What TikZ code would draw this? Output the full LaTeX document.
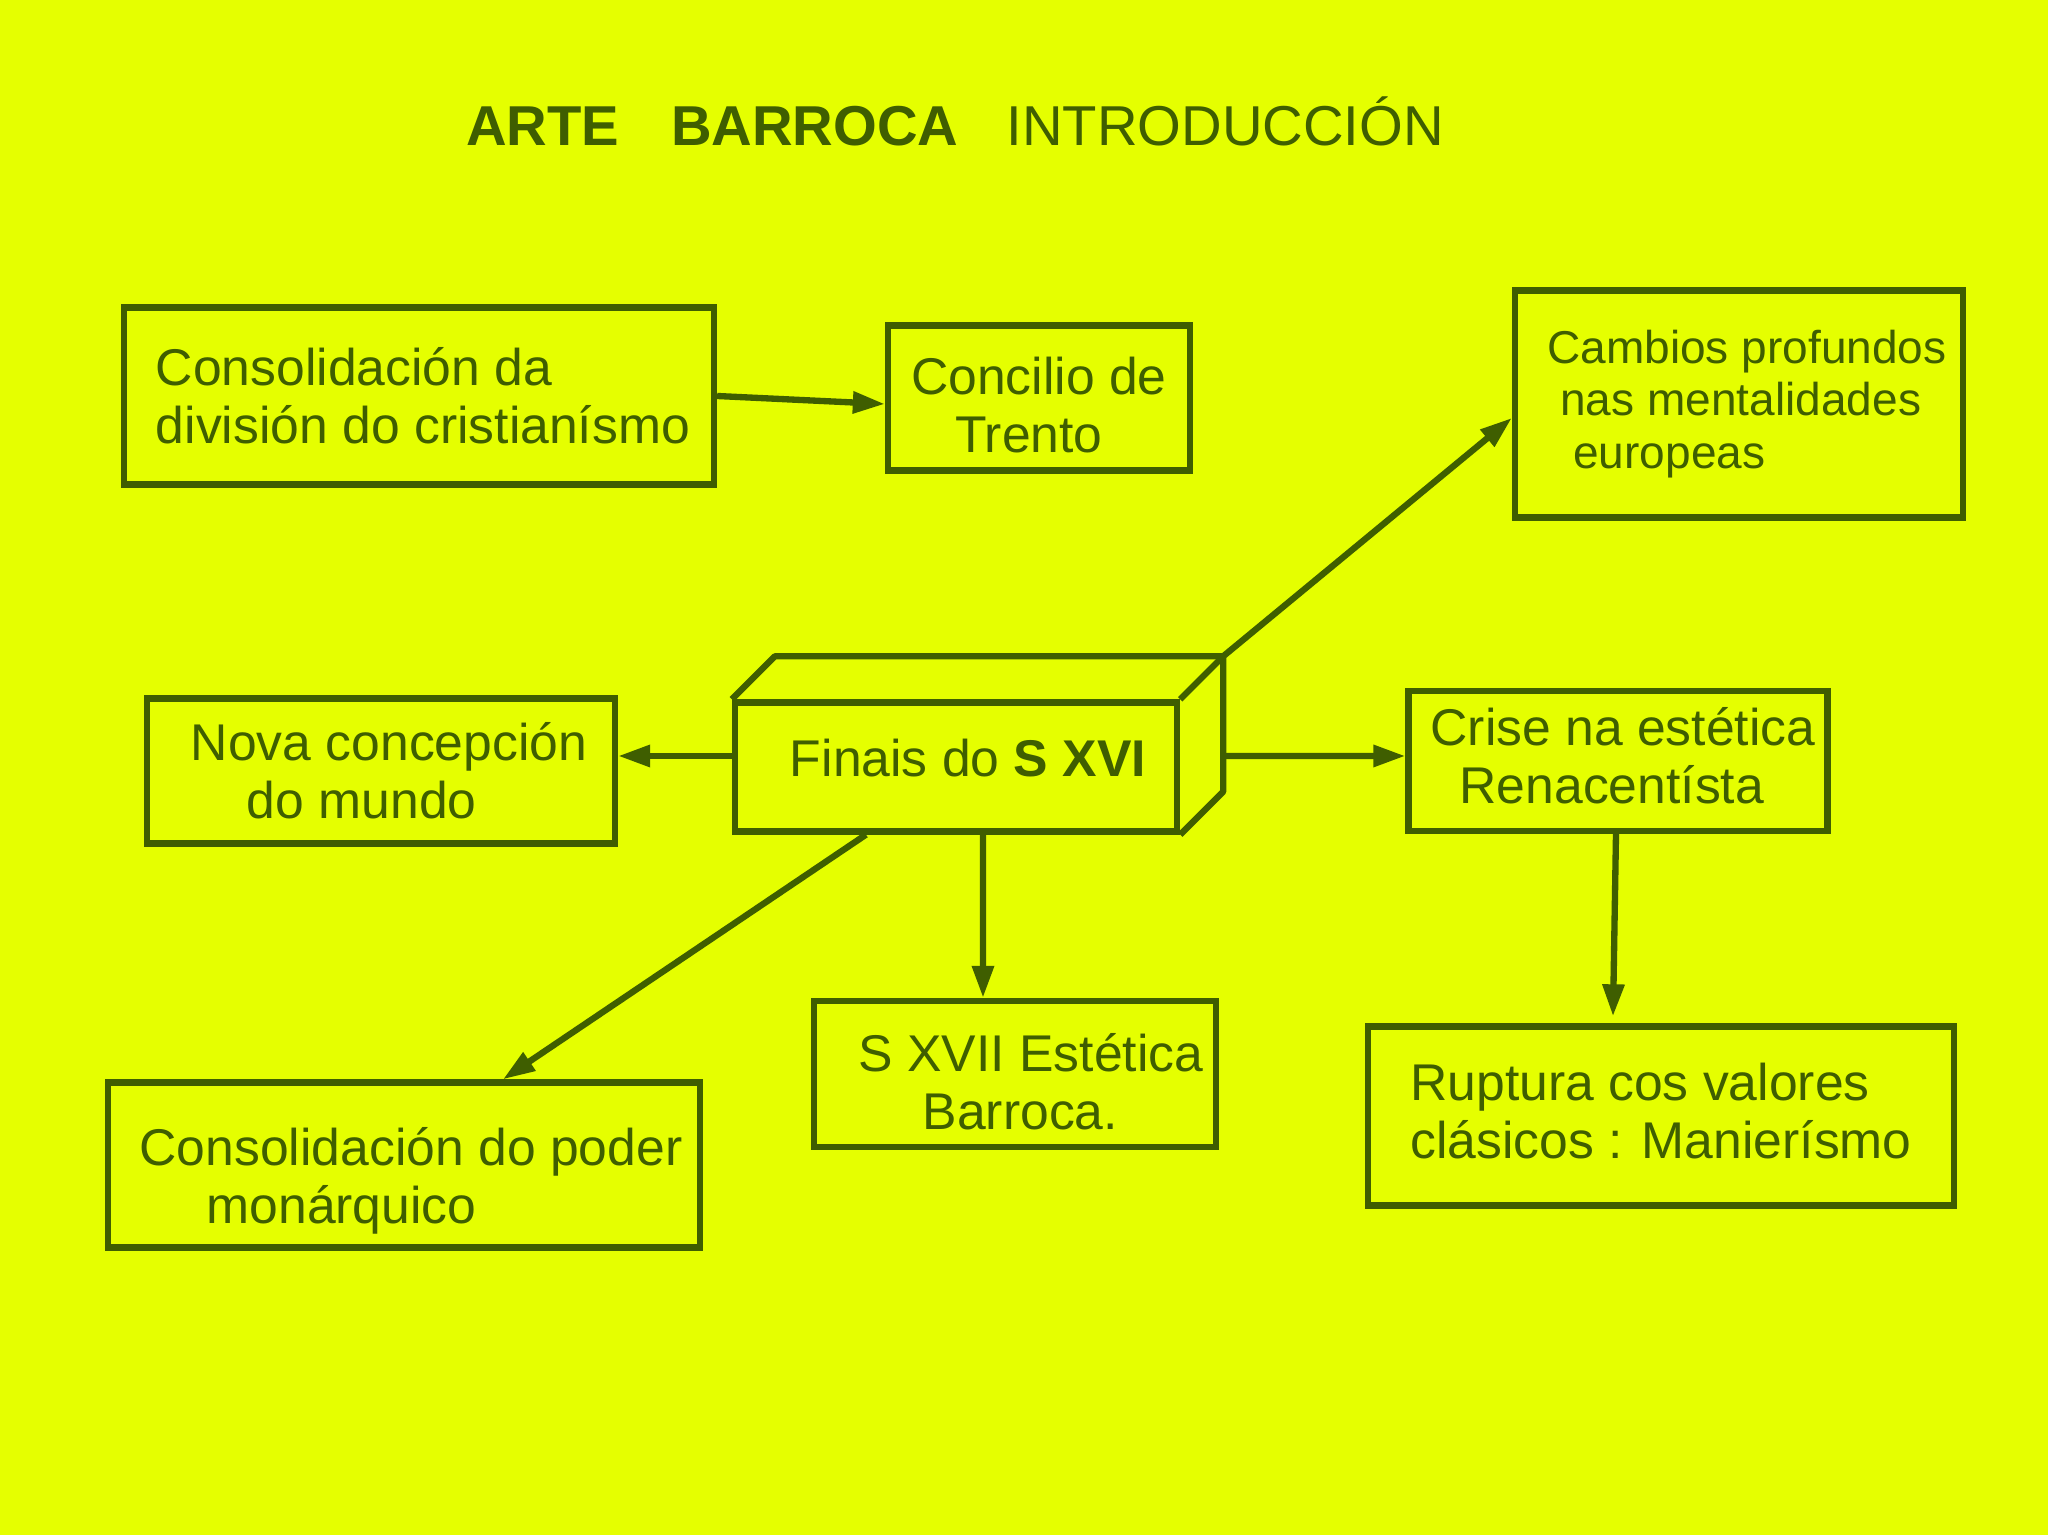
\documentclass[tikz,border=0pt]{standalone}
\usepackage{fontspec}
\setmainfont{Liberation Sans}
\usepackage{tikz}
\usetikzlibrary{arrows.meta,positioning,calc}
\definecolor{lemon}{HTML}{E5FF00}
\definecolor{leaf}{HTML}{3F5E00}
\tikzset{
  box/.style={draw=leaf,line width=1.8pt,inner sep=0pt},
  txt/.style={text=leaf,align=left,inner sep=0pt,
    font=\fontsize{14.7pt}{16.4pt}\selectfont},
  smalltxt/.style={txt,font=\fontsize{13.1pt}{14.9pt}\selectfont},
  arr/.style={-{Triangle[length=3.2mm,width=2.1mm]},line width=1.8pt,draw=leaf},
  edge3d/.style={draw=leaf,line width=1.8pt,line join=round},
  headline/.style={text=leaf,font=\fontsize{16pt}{19pt}\selectfont,anchor=base},
}

\begin{document}
\begin{tikzpicture}[x=1cm,y=1cm]
  \fill[lemon] (0,0) rectangle (20.48,15.35);
  \useasboundingbox (0,0) rectangle (20.48,15.35);
  \node[headline] (title) at (9.55,13.89)
    {\textbf{ARTE}\hspace{0.52cm}\textbf{BARROCA}\hspace{0.48cm}INTRODUCCIÓN};
  % top row
  \node[box,minimum width=5.90cm,minimum height=1.77cm] (cons) at (4.19,11.39) {};
  \node[txt] (consT) at ([xshift=0.04cm]cons.center)
    {Consolidación da\\división do cristianísmo};
  \node[box,minimum width=3.02cm,minimum height=1.45cm] (trento) at (10.39,11.37) {};
  \node[txt] (trentoT) at ([yshift=-0.07cm]trento.center)
    {Concilio de\\\hspace{0.44cm}Trento};
  \node[box,minimum width=4.48cm,minimum height=2.27cm] (cambios) at (17.39,11.31) {};
  \node[smalltxt] (cambiosT) at ([xshift=0.08cm]cambios.center)
    {Cambios profundos\\\hspace{0.13cm}nas mentalidades\\\hspace{0.26cm}europeas};
  % middle row
  \node[box,minimum width=4.68cm,minimum height=1.45cm] (nova) at (3.81,7.64) {};
  \node[txt] (novaT) at ([xshift=0.08cm]nova.center)
    {Nova concepción\\\hspace{0.56cm}do mundo};
  \node[box,minimum width=4.42cm,minimum height=1.29cm] (finais) at (9.56,7.68) {};
  \node[txt] (finaisT) at ([xshift=0.12cm,yshift=0.09cm]finais.center)
    {Finais do \textbf{S XVI}};
  \node[box,minimum width=4.19cm,minimum height=1.40cm] (crise) at (16.18,7.74) {};
  \node[txt] (criseT) at ([xshift=0.05cm,yshift=0.05cm]crise.center)
    {Crise na estética\\\hspace{0.29cm}Renacentísta};
  % bottom row
  \node[box,minimum width=4.02cm,minimum height=1.46cm] (barroca) at (10.15,4.61) {};
  \node[txt] (barrocaT) at ([xshift=0.16cm,yshift=-0.08cm]barroca.center)
    {S XVII Estética\\\hspace{0.64cm}Barroca.};
  \node[box,minimum width=5.92cm,minimum height=1.65cm] (poder) at (4.04,3.70) {};
  \node[txt] (poderT) at ([xshift=0.07cm,yshift=-0.16cm]poder.center)
    {Consolidación do poder\\\hspace{0.67cm}monárquico};
  \node[box,minimum width=5.86cm,minimum height=1.79cm] (ruptura) at (16.61,4.19) {};
  \node[txt] (rupturaT) at ([yshift=0.05cm]ruptura.center)
    {Ruptura cos valores\\clásicos : Manierísmo};
  % depth of the central box
  \coordinate (backne) at ($(finais.north east)+(0.43,0.43)$);
  \draw[edge3d] (finais.north west) -- ++(0.43,0.43) -- (backne)
    -- ($(finais.south east)+(0.43,0.43)$) -- (finais.south east);
  \draw[edge3d] (finais.north east) -- (backne);
  % connectors
  \draw[arr] (cons.east) -- ([yshift=-0.06cm]trento.west);
  \draw[arr] (backne) -- ([yshift=-0.14cm]cambios.west);
  \draw[arr] ([xshift=0.06cm,yshift=0.11cm]finais.west) -- ([yshift=0.15cm]nova.east);
  \draw[arr] ([xshift=0.44cm,yshift=0.11cm]finais.east) -- ([yshift=0.05cm]crise.west);
  \draw[arr] ([xshift=0.27cm]finais.south) -- ([xshift=-0.32cm]barroca.north);
  \draw[arr] ([xshift=-0.90cm]finais.south) -- ([xshift=0.99cm]poder.north);
  \draw[arr] ([xshift=-0.02cm]crise.south) -- ([xshift=-0.48cm,yshift=0.07cm]ruptura.north);
\end{tikzpicture}
\end{document}
